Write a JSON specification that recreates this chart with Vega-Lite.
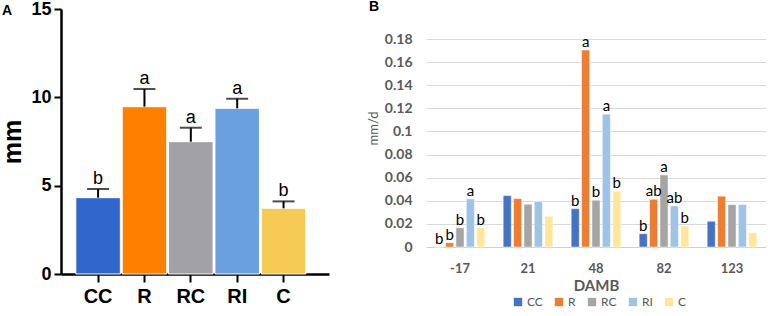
{
  "$schema": "https://vega.github.io/schema/vega-lite/v6.json",
  "padding": {"left": 0, "top": 0, "right": 0, "bottom": 0},
  "background": "white",
  "spacing": 38,
  "config": {"view": {"stroke": null}},
  "resolve": {"scale": {"color": "independent"}},
  "hconcat": [
    {
      "width": 268,
      "height": 265,
      "title": {"text": "A", "anchor": "start", "frame": "group", "font": "Liberation Sans", "fontSize": 14, "fontWeight": "bold", "offset": 0, "dx": -59, "dy": 18, "color": "black"},
      "data": {"values": [
        {"group": "CC", "mean": 4.32, "upper": 4.81, "letter": "b"},
        {"group": "R", "mean": 9.47, "upper": 10.47, "letter": "a"},
        {"group": "RC", "mean": 7.49, "upper": 8.28, "letter": "a"},
        {"group": "RI", "mean": 9.38, "upper": 9.92, "letter": "a"},
        {"group": "C", "mean": 3.72, "upper": 4.11, "letter": "b"}
      ]},
      "encoding": {
        "x": {
          "field": "group", "type": "nominal", "sort": ["CC", "R", "RC", "RI", "C"],
          "scale": {"paddingInner": 0.04, "paddingOuter": 0.41, "align": 0.39},
          "axis": {"title": null, "labelAngle": 0, "labelFont": "Liberation Sans", "labelFontSize": 20, "labelFontWeight": "bold", "labelColor": "black", "tickColor": "black", "tickWidth": 2, "tickSize": 8, "domainColor": "black", "domainWidth": 2.5, "labelPadding": 4}
        }
      },
      "layer": [
        {
          "mark": {"type": "bar", "stroke": "white", "strokeWidth": 1},
          "encoding": {
            "y": {
              "field": "mean", "type": "quantitative",
              "scale": {"domain": [0, 15], "nice": false},
              "axis": {"title": "mm", "values": [0, 5, 10, 15], "grid": false, "labelFont": "Liberation Sans", "labelFontSize": 18, "labelFontWeight": "bold", "labelColor": "black", "tickColor": "black", "tickWidth": 2, "tickSize": 7, "domainColor": "black", "domainWidth": 2.5, "titleFont": "Liberation Sans", "titleFontSize": 25, "titleFontWeight": "bold", "titleColor": "black", "titlePadding": 5, "labelPadding": 3}
            },
            "color": {
              "field": "group", "type": "nominal", "sort": ["CC", "R", "RC", "RI", "C"],
              "scale": {"domain": ["CC", "R", "RC", "RI", "C"], "range": ["#3166cd", "#ff7f00", "#a2a2a6", "#6aa0e0", "#f6cb55"]},
              "legend": null
            }
          }
        },
        {
          "mark": {"type": "rule", "color": "black", "strokeWidth": 2},
          "encoding": {"y": {"field": "mean", "type": "quantitative"}, "y2": {"field": "upper"}}
        },
        {
          "mark": {"type": "tick", "color": "black", "thickness": 2, "size": 22},
          "encoding": {"y": {"field": "upper", "type": "quantitative"}}
        },
        {
          "mark": {"type": "text", "font": "Liberation Sans", "fontSize": 18, "baseline": "alphabetic", "dy": -5, "color": "black"},
          "encoding": {"y": {"field": "upper", "type": "quantitative"}, "text": {"field": "letter"}}
        }
      ]
    },
    {
      "width": 340,
      "height": 238,
      "title": {"text": "B", "anchor": "start", "frame": "group", "font": "Liberation Sans", "fontSize": 14, "fontWeight": "bold", "offset": 0, "dx": -57, "dy": 5, "color": "black"},
      "data": {"values": [
        {"damb": "-17", "group": "CC", "value": 0.0, "letter": "b"},
        {"damb": "-17", "group": "R", "value": 0.0037, "letter": "b"},
        {"damb": "-17", "group": "RC", "value": 0.0167, "letter": "b"},
        {"damb": "-17", "group": "RI", "value": 0.0416, "letter": "a"},
        {"damb": "-17", "group": "C", "value": 0.0167, "letter": "b"},
        {"damb": "21", "group": "CC", "value": 0.0445, "letter": ""},
        {"damb": "21", "group": "R", "value": 0.0419, "letter": ""},
        {"damb": "21", "group": "RC", "value": 0.037, "letter": ""},
        {"damb": "21", "group": "RI", "value": 0.0393, "letter": ""},
        {"damb": "21", "group": "C", "value": 0.0266, "letter": ""},
        {"damb": "48", "group": "CC", "value": 0.0332, "letter": "b"},
        {"damb": "48", "group": "R", "value": 0.1705, "letter": "a"},
        {"damb": "48", "group": "RC", "value": 0.0405, "letter": "b"},
        {"damb": "48", "group": "RI", "value": 0.115, "letter": "a"},
        {"damb": "48", "group": "C", "value": 0.0483, "letter": "b"},
        {"damb": "82", "group": "CC", "value": 0.0115, "letter": "b"},
        {"damb": "82", "group": "R", "value": 0.0413, "letter": "ab"},
        {"damb": "82", "group": "RC", "value": 0.0624, "letter": "a"},
        {"damb": "82", "group": "RI", "value": 0.0355, "letter": "ab"},
        {"damb": "82", "group": "C", "value": 0.0182, "letter": "b"},
        {"damb": "123", "group": "CC", "value": 0.0223, "letter": ""},
        {"damb": "123", "group": "R", "value": 0.044, "letter": ""},
        {"damb": "123", "group": "RC", "value": 0.0367, "letter": ""},
        {"damb": "123", "group": "RI", "value": 0.0367, "letter": ""},
        {"damb": "123", "group": "C", "value": 0.0124, "letter": ""}
      ]},
      "encoding": {
        "x": {
          "field": "damb", "type": "nominal", "sort": ["-17", "21", "48", "82", "123"],
          "scale": {"paddingInner": 0.27, "paddingOuter": 0.135},
          "axis": {"title": "DAMB", "labelAngle": 0, "labelFont": "Lato", "labelFontSize": 13, "labelFontWeight": "bold", "labelColor": "#595959", "ticks": false, "domainColor": "#d0d0d0", "domainWidth": 1, "labelPadding": 15, "titleFont": "Lato", "titleFontSize": 15, "titleFontWeight": "bold", "titleColor": "#595959", "titlePadding": 3}
        },
        "xOffset": {"field": "group", "type": "nominal", "sort": ["CC", "R", "RC", "RI", "C"], "scale": {"paddingInner": 0.22}},
        "y": {
          "field": "value", "type": "quantitative",
          "scale": {"domain": [0, 0.206], "nice": false},
          "axis": {"title": "mm/d", "values": [0, 0.02, 0.04, 0.06, 0.08, 0.1, 0.12, 0.14, 0.16, 0.18], "format": "~g", "grid": true, "gridColor": "#d9d9d9", "gridWidth": 1, "domain": false, "ticks": false, "labelFont": "Lato", "labelFontSize": 14, "labelFontWeight": "bold", "labelColor": "#595959", "labelPadding": 14, "titleFont": "Lato", "titleFontSize": 13, "titleFontWeight": "normal", "titleColor": "#595959", "titlePadding": 4}
        }
      },
      "layer": [
        {
          "mark": {"type": "bar", "stroke": "white", "strokeWidth": 0.5},
          "encoding": {
            "color": {
              "field": "group", "type": "nominal", "sort": ["CC", "R", "RC", "RI", "C"],
              "scale": {"domain": ["CC", "R", "RC", "RI", "C"], "range": ["#4472c4", "#ed7d31", "#a5a5a5", "#9dc3e6", "#ffe699"]},
              "legend": {"title": null, "orient": "none", "legendX": 86, "legendY": 287, "direction": "horizontal", "symbolType": "square", "symbolSize": 70, "symbolStrokeWidth": 0, "labelFont": "Lato", "labelFontSize": 12, "labelColor": "#595959", "labelOffset": 3, "columnPadding": 10}
            }
          }
        },
        {
          "mark": {"type": "text", "font": "Lato", "fontSize": 15, "baseline": "alphabetic", "dy": -3, "color": "black"},
          "encoding": {"text": {"field": "letter"}}
        }
      ]
    }
  ]
}
